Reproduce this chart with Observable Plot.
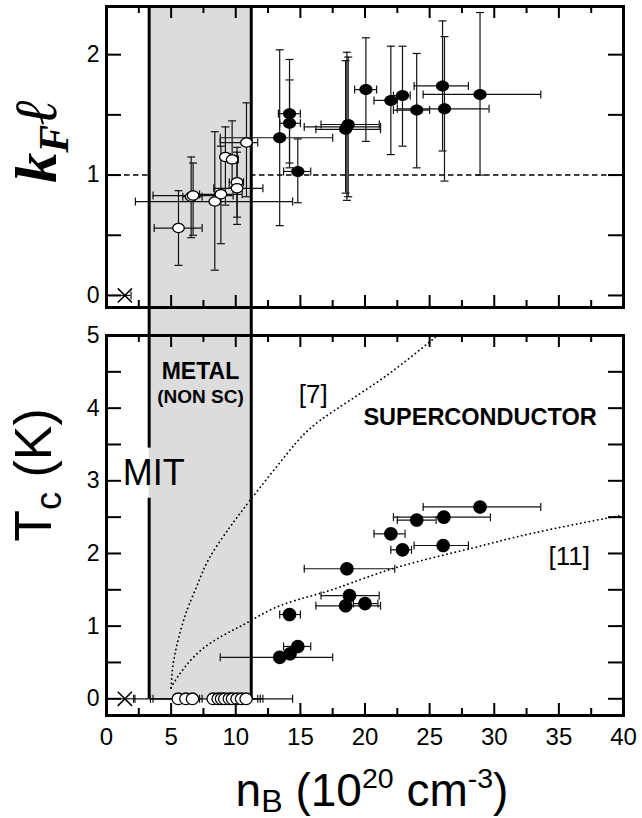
<!DOCTYPE html>
<html><head><meta charset="utf-8">
<script src="https://cdn.jsdelivr.net/npm/d3@7"></script>
<script src="https://cdn.jsdelivr.net/npm/@observablehq/plot@0.6"></script>
<style>
body{margin:0;background:#fff;}
#wrap{position:relative;width:642px;height:818px;overflow:hidden;font-family:"Liberation Sans",Arial,sans-serif;background:#fff;}
#wrap svg{position:absolute;left:0;overflow:visible;}
.ttl{position:absolute;white-space:nowrap;color:#000;line-height:1;}
</style></head><body><div id="wrap"></div>
<script>
// ---------- data ----------
const xMajorTicks = [0, 5, 10, 15, 20, 25, 30, 35, 40];
const xMinorTicks = [2.5, 7.5, 12.5, 17.5, 22.5, 27.5, 32.5, 37.5];
const kfTicks = [0, 0.5, 1, 1.5, 2];
const kfLabels = [0, 1, 2];
const tcTicks = [0, 0.5, 1, 1.5, 2, 2.5, 3, 3.5, 4, 4.5, 5];
const tcLabels = [0, 1, 2, 3, 4, 5];
const metalBand = [3.3, 11.2];
const kfThreshold = [1];

// top panel (k_F l), superconducting samples (filled)
const kfFilledX   = [13.4, 14.16, 14.16, 14.8, 18.6, 18.7, 18.5, 20.07, 22.0, 22.9, 24.0, 26.0, 26.15, 28.9];
const kfFilledY   = [1.31, 1.51, 1.43, 1.03, 1.40, 1.42, 1.38, 1.71, 1.62, 1.66, 1.54, 1.74, 1.55, 1.67];
const kfFilledYlo = [0.58, 1.06, 1.10, 0.77, 0.79, 0.82, 0.85, 1.28, 1.17, 1.24, 1.06, 1.20, 0.95, 1.00];
const kfFilledYhi = [2.04, 1.96, 1.79, 1.30, 2.02, 1.98, 1.95, 2.14, 2.07, 2.07, 2.01, 2.28, 2.15, 2.35];
const kfFilledXlo = [8.8, 13.3, 13.4, 13.7, 15.3, 16.6, 16.2, 19.2, 20.7, 22.2, 22.2, 23.8, 22.5, 24.5];
const kfFilledXhi = [17.5, 15.0, 15.0, 15.8, 21.2, 21.1, 21.2, 20.9, 22.5, 23.5, 25.0, 28.0, 29.6, 33.6];

// top panel, non-superconducting samples (open)
const kfOpenX   = [5.57, 6.55, 6.7, 8.38, 8.85, 9.2, 9.72, 10.1, 10.1, 10.83];
const kfOpenY   = [0.56, 0.82, 0.83, 0.78, 0.84, 1.15, 1.13, 0.94, 0.89, 1.27];
const kfOpenYlo = [0.25, 0.48, 0.50, 0.21, 0.43, 0.75, 0.90, 0.65, 0.59, 0.82];
const kfOpenYhi = [0.87, 1.15, 1.10, 1.36, 1.24, 1.40, 1.45, 1.19, 1.23, 1.60];
const kfOpenXlo = [3.69, 5.9, 3.6, 2.24, 7.2, 8.9, 9.4, 9.5, 8.3, 8.8];
const kfOpenXhi = [7.40, 7.4, 9.8, 14.4, 10.5, 9.6, 10.2, 10.6, 12.1, 11.7];

// bottom panel (Tc), superconducting samples
const tcFilledX   = [13.4, 14.2, 14.8, 14.16, 18.6, 18.8, 18.5, 20.0, 22.0, 22.9, 24.0, 26.1, 28.9, 26.05];
const tcFilledY   = [0.57, 0.62, 0.72, 1.16, 1.79, 1.42, 1.28, 1.31, 2.27, 2.05, 2.46, 2.50, 2.64, 2.11];
const tcFilledXlo = [8.8, null, 13.7, 13.4, 15.3, 16.6, 16.2, 19.1, 20.7, 22.0, 22.5, 22.2, 24.5, 23.8];
const tcFilledXhi = [17.5, null, 15.8, 15.0, 22.3, 21.1, 21.2, 21.0, 23.1, 23.6, 25.5, 29.7, 33.6, 28.0];

// bottom panel, non-superconducting samples (Tc = 0)
const tcOpenX   = [5.55, 6.14, 6.65, 8.25, 8.64, 8.9, 9.15, 9.5, 9.75, 10.1, 10.45, 10.8];
const tcOpenY   = [0, 0, 0, 0, 0, 0, 0, 0, 0, 0, 0, 0];
const tcOpenXlo = [3.6, null, 3.4, 2.1, null, 8.3, 8.4, null, null, null, 8.8, null];
const tcOpenXhi = [7.4, null, 7.2, 14.4, null, 12.1, 11.9, null, null, null, 11.7, null];

// insulating sample (cross)
const crossX = [1.42];
const crossY = [0];
const crossXlo = [0];
const kfCrossXhi = [1.9];
const tcCrossXhi = [2.2];

// theory curves
const curve7X  = [5.0, 5.1, 5.3, 5.6, 6.0, 6.4, 7.1, 8.0, 9.5, 11.1, 14.0, 16.6, 21.2, 25.6];
const curve7Y  = [0.15, 0.4, 0.62, 0.85, 1.1, 1.3, 1.6, 1.95, 2.35, 2.73, 3.38, 3.84, 4.39, 5.0];
const curve11X = [5.0, 5.5, 7.0, 9.0, 10.9, 13.0, 15.5, 18.1, 22.5, 28.2, 33.0, 40.0];
const curve11Y = [0.15, 0.3, 0.62, 0.87, 1.05, 1.25, 1.4, 1.54, 1.81, 2.07, 2.28, 2.53];

// texts
const annMetal = "METAL";
const annNonSC = "(NON SC)";
const annRef7 = "[7]";
const annRef11 = "[11]";
const annSC = "SUPERCONDUCTOR";
const annMIT = "MIT";

// ---------- helpers ----------
const rows = (cols) => cols.x.map((_, i) => Object.fromEntries(Object.keys(cols).map(k => [k, cols[k][i]])));
const ellipse = (rx, ry) => ({draw(ctx) {
  const k = 0.5523;
  ctx.moveTo(rx, 0);
  ctx.bezierCurveTo(rx, ry * k, rx * k, ry, 0, ry);
  ctx.bezierCurveTo(-rx * k, ry, -rx, ry * k, -rx, 0);
  ctx.bezierCurveTo(-rx, -ry * k, -rx * k, -ry, 0, -ry);
  ctx.bezierCurveTo(rx * k, -ry, rx, -ry * k, rx, 0);
  ctx.closePath();
}});
const hCap = {draw(ctx) { ctx.moveTo(-4, 0); ctx.lineTo(4, 0); }};
const vCap = {draw(ctx) { ctx.moveTo(0, -4); ctx.lineTo(0, 4); }};

const kfFilled = rows({x: kfFilledX, y: kfFilledY, ylo: kfFilledYlo, yhi: kfFilledYhi, xlo: kfFilledXlo, xhi: kfFilledXhi});
const kfOpen = rows({x: kfOpenX, y: kfOpenY, ylo: kfOpenYlo, yhi: kfOpenYhi, xlo: kfOpenXlo, xhi: kfOpenXhi});
const tcFilled = rows({x: tcFilledX, y: tcFilledY, xlo: tcFilledXlo, xhi: tcFilledXhi});
const tcOpen = rows({x: tcOpenX, y: tcOpenY, xlo: tcOpenXlo, xhi: tcOpenXhi});
const kfCross = rows({x: crossX, y: crossY, xlo: crossXlo, xhi: kfCrossXhi});
const tcCross = rows({x: crossX, y: crossY, xlo: crossXlo, xhi: tcCrossXhi});
const curve7 = rows({x: curve7X, y: curve7Y});
const curve11 = rows({x: curve11X, y: curve11Y});

const FONT = "'Liberation Sans', Arial, sans-serif";
const W = 642, ML = 106, MR = 19;
const FW = W - ML - MR; // frame width
const BAR = {stroke: "#111", strokeWidth: 1.2};

function xErr(data) {
  const d = data.filter(r => r.xlo != null);
  return [
    Plot.ruleY(d, {y: "y", x1: "xlo", x2: "xhi", ...BAR}),
    Plot.dot(d, {x: "xlo", y: "y", symbol: vCap, fill: "none", ...BAR}),
    Plot.dot(d, {x: "xhi", y: "y", symbol: vCap, fill: "none", ...BAR})
  ];
}
function yErr(data) {
  return [
    Plot.ruleX(data, {x: "x", y1: "ylo", y2: "yhi", ...BAR}),
    Plot.dot(data, {x: "x", y: "ylo", symbol: hCap, fill: "none", ...BAR}),
    Plot.dot(data, {x: "x", y: "yhi", symbol: hCap, fill: "none", ...BAR})
  ];
}
function frameTicks(yTicks, FH) {
  const T = {stroke: "#000", strokeWidth: 2};
  return [
    Plot.tickY(yTicks, {y: d => d, insetRight: FW - 15, ...T}),
    Plot.tickY(yTicks, {y: d => d, insetLeft: FW - 15, ...T}),
    Plot.tickX(xMajorTicks, {x: d => d, insetBottom: FH - 12, ...T}),
    Plot.tickX(xMinorTicks, {x: d => d, insetBottom: FH - 7, ...T}),
    Plot.tickX(xMajorTicks, {x: d => d, insetTop: FH - 12, ...T}),
    Plot.tickX(xMinorTicks, {x: d => d, insetTop: FH - 7, ...T})
  ];
}

const wrap = document.getElementById("wrap");

// ---------- top panel ----------
const TOP_H = 335, TOP_MT = 6, TOP_MB = 28;
const TOP_FH = TOP_H - TOP_MT - TOP_MB;
const topPlot = Plot.plot({
  width: W, height: TOP_H,
  marginLeft: ML, marginRight: MR, marginTop: TOP_MT, marginBottom: TOP_MB,
  style: {background: "transparent", color: "#000", fontFamily: FONT},
  x: {domain: [0, 40], axis: null},
  y: {domain: [-0.1, 2.4], axis: null},
  marks: [
    Plot.ruleY(kfThreshold, {y: d => d, stroke: "#000", strokeWidth: 1.5, strokeDasharray: "5.5,3.5"}),
    Plot.rect([metalBand], {x1: d => d[0], x2: d => d[1], fill: "#dcdcdc", insetBottom: -TOP_MB}),
    Plot.ruleX(metalBand, {x: d => d, stroke: "#000", strokeWidth: 3, insetBottom: -TOP_MB}),
    ...yErr(kfOpen), ...xErr(kfOpen),
    ...yErr(kfFilled), ...xErr(kfFilled),
    ...xErr(kfCross),
    Plot.dot(kfCross, {x: "x", y: "y", symbol: "times", r: 6.5, stroke: "#000", strokeWidth: 1.5}),
    Plot.dot(kfOpen, {x: "x", y: "y", symbol: ellipse(5.8, 4.6), fill: "#fff", stroke: "#000", strokeWidth: 1.3}),
    Plot.dot(kfFilled, {x: "x", y: "y", symbol: ellipse(6.6, 5.5), fill: "#000"}),
    Plot.frame({stroke: "#000", strokeWidth: 3}),
    ...frameTicks(kfTicks, TOP_FH),
    Plot.axisY(kfLabels, {anchor: "left", tickSize: 0, tickPadding: 7, fontSize: 23, label: null, tickFormat: d => String(d)})
  ]
});
topPlot.style.top = "0px";
wrap.appendChild(topPlot);

// ---------- bottom panel ----------
const BOT_TOP = 325, BOT_H = 818 - 325, BOT_MT = 10, BOT_FH = 380;
const BOT_MB = BOT_H - BOT_MT - BOT_FH;
const bottomPlot = Plot.plot({
  width: W, height: BOT_H,
  marginLeft: ML, marginRight: MR, marginTop: BOT_MT, marginBottom: BOT_MB,
  style: {background: "transparent", color: "#000", fontFamily: FONT},
  x: {domain: [0, 40], axis: null},
  y: {domain: [-0.23, 5], axis: null},
  marks: [
    Plot.rect([metalBand], {x1: d => d[0], x2: d => d[1], y1: () => 0, y2: () => 5, fill: "#dcdcdc"}),
    Plot.ruleX(metalBand.slice(1), {x: d => d, y1: () => 0, y2: () => 5, stroke: "#000", strokeWidth: 3}),
    Plot.ruleX(metalBand.slice(0, 1), {x: d => d, y1: () => 3.45, y2: () => 5, stroke: "#000", strokeWidth: 3}),
    Plot.ruleX(metalBand.slice(0, 1), {x: d => d, y1: () => 0, y2: () => 2.76, stroke: "#000", strokeWidth: 3}),
    Plot.line(curve7, {x: "x", y: "y", curve: "natural", stroke: "#000", strokeWidth: 1.8, strokeDasharray: "0.1,4.2", strokeLinecap: "round"}),
    Plot.line(curve11, {x: "x", y: "y", curve: "natural", stroke: "#000", strokeWidth: 1.8, strokeDasharray: "0.1,4.2", strokeLinecap: "round"}),
    ...xErr(tcOpen), ...xErr(tcFilled), ...xErr(tcCross),
    Plot.dot(tcCross, {x: "x", y: "y", symbol: "times", r: 6.5, stroke: "#000", strokeWidth: 1.5}),
    Plot.dot(tcOpen, {x: "x", y: "y", symbol: ellipse(6.2, 5.8), fill: "#fff", stroke: "#000", strokeWidth: 1.3}),
    Plot.dot(tcFilled, {x: "x", y: "y", symbol: ellipse(6.8, 6.8), fill: "#000"}),
    Plot.text([annMetal], {x: () => 7.27, y: () => 4.5, text: d => d, fontSize: 23, fontWeight: "bold", fill: "#000"}),
    Plot.text([annNonSC], {x: () => 7.27, y: () => 4.15, text: d => d, fontSize: 19, fontWeight: "bold", fill: "#000"}),
    Plot.text([annRef7], {x: () => 16.0, y: () => 4.18, text: d => d, fontSize: 26, fill: "#000"}),
    Plot.text([annSC], {x: () => 28.9, y: () => 3.87, text: d => d, fontSize: 23.5, fontWeight: "bold", fill: "#000"}),
    Plot.text([annRef11], {x: () => 35.8, y: () => 1.95, text: d => d, fontSize: 26, fill: "#000"}),
    Plot.text([annMIT], {x: () => 1.25, y: () => 3.1, text: d => d, fontSize: 36, textAnchor: "start", fill: "#000"}),
    Plot.frame({stroke: "#000", strokeWidth: 3}),
    ...frameTicks(tcTicks, BOT_FH),
    Plot.axisY(tcLabels, {anchor: "left", tickSize: 0, tickPadding: 7, fontSize: 23, label: null, tickFormat: d => String(d)}),
    Plot.axisX(xMajorTicks, {anchor: "bottom", tickSize: 0, tickPadding: 12, fontSize: 24, label: null, tickFormat: d => String(d)})
  ]
});
bottomPlot.style.top = BOT_TOP + "px";
wrap.appendChild(bottomPlot);

// ---------- axis titles ----------
function addTitle(html, left, top, css, rotate) {
  const d = document.createElement("div");
  d.className = "ttl";
  d.innerHTML = html;
  d.style.left = left + "px";
  d.style.top = top + "px";
  d.style.cssText += css;
  d.style.transform = "translate(-50%,-50%)" + (rotate ? " rotate(-90deg)" : "");
  wrap.appendChild(d);
}
const sub = (t, dy) => `<span style="font-size:.7em;position:relative;top:${dy}em">${t}</span>`;
const sup = t => `<span style="font-size:.62em;position:relative;top:-.62em">${t}</span>`;
addTitle(`k${sub("F", 0.28)}ℓ`, 36, 141, "font-family:'Liberation Serif','DejaVu Serif',serif;font-weight:bold;font-style:italic;font-size:60px;", true);
addTitle(`T${sub("c", 0.28)} (K)`, 33, 475, `font-family:${FONT};font-size:52px;`, true);
addTitle(`n${sub("B", 0.18)} (10${sup("20")} cm${sup("-3")})`, 372, 790, `font-family:${FONT};font-size:46px;`, false);
</script>
</body></html>
